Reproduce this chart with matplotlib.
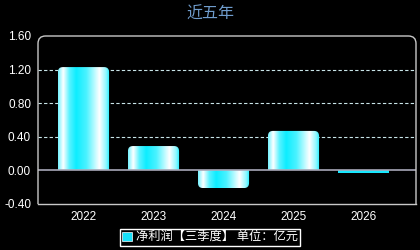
import matplotlib
matplotlib.use('Agg')
import matplotlib.pyplot as plt
import numpy as np
from matplotlib.patches import FancyBboxPatch, Rectangle, Patch
from matplotlib.colors import LinearSegmentedColormap

years = ['2022', '2023', '2024', '2025', '2026']
profit = [1.23, 0.29, -0.21, 0.47, -0.03]
yticks = [-0.40, 0.00, 0.40, 0.80, 1.20, 1.60]

plt.rcParams['font.family'] = ['Liberation Sans', 'Noto Sans CJK SC', 'DejaVu Sans']

fig = plt.figure(figsize=(4.2, 2.5), dpi=100, facecolor='black')
ax = fig.add_axes([38/420, 1-204/250, 378/420, 168/250])
ax.set_facecolor('black')

ax.set_xlim(-0.65, 4.75)
ax.set_ylim(-0.4, 1.6)

# horizontal gradient: cyan with two white highlights
grad = LinearSegmentedColormap.from_list('bar', [
    (0.00, (0.45, 0.95, 1.0)),
    (0.10, (1.0, 1.0, 1.0)),
    (0.22, (0.35, 0.95, 1.0)),
    (0.35, (0.05, 0.93, 1.0)),
    (0.55, (0.30, 0.95, 1.0)),
    (0.80, (1.0, 1.0, 1.0)),
    (0.93, (0.55, 0.97, 1.0)),
    (1.00, (0.10, 0.93, 1.0)),
])
g = np.linspace(0, 1, 256).reshape(1, -1)

w = 0.73
rx = 0.07
ry = 0.06
for i, v in enumerate(profit):
    x0 = i - w/2
    if abs(v) < 0.05:
        ax.bar(i, v, width=w, color='#18e8ff', zorder=3)
        continue
    if v >= 0:
        patch = FancyBboxPatch((x0, -0.1), w, v + 0.1,
                               boxstyle='round,pad=0,rounding_size=%f' % rx,
                               mutation_aspect=ry/rx, transform=ax.transData,
                               facecolor='none', edgecolor='none')
        ext = [x0, x0 + w, 0, v]
    else:
        patch = FancyBboxPatch((x0, v), w, -v + 0.1,
                               boxstyle='round,pad=0,rounding_size=%f' % rx,
                               mutation_aspect=ry/rx, transform=ax.transData,
                               facecolor='none', edgecolor='none')
        ext = [x0, x0 + w, v, 0]
    ax.add_patch(patch)
    im = ax.imshow(g, cmap=grad, extent=ext, aspect='auto', zorder=3,
                   interpolation='bilinear')
    im.set_clip_path(patch)

ax.set_xlim(-0.65, 4.75)
ax.set_ylim(-0.4, 1.6)

for yv in [0.4, 0.8, 1.2]:
    ax.axhline(yv, color='#c8e4e8', lw=0.8, ls=(0, (3, 2)), zorder=1)
ax.axhline(0, color='#a8a8b8', lw=1.2, zorder=4)

# frame with rounded top corners
for s in ['top', 'left', 'right']:
    ax.spines[s].set_visible(False)
ax.spines['bottom'].set_color('#c8c8c8')
ax.spines['bottom'].set_linewidth(1.0)
frame = FancyBboxPatch((0, -0.1), 1, 1.1, boxstyle='round,pad=0,rounding_size=0.02',
                       mutation_aspect=378/168, transform=ax.transAxes,
                       facecolor='none', edgecolor='#c8c8c8', lw=1.0,
                       clip_on=True, zorder=5)
ax.add_patch(frame)
frame.set_clip_path(Rectangle((-0.02, 0), 1.04, 1.05, transform=ax.transAxes))

ax.set_xticks(range(len(years)))
ax.set_xticklabels(years)
ax.set_yticks(yticks)
ax.set_yticklabels(['%.2f' % t for t in yticks])
ax.tick_params(colors='white', labelsize=8.5, length=0)
ax.tick_params(axis='y', pad=5)
ax.tick_params(axis='x', pad=5)

fig.text(0.5, 0.945, '近五年', ha='center', va='center', color='#6f9ccc',
         fontsize=11.5, family=['Noto Sans CJK SC', 'DejaVu Sans'])

leg = fig.legend(handles=[Patch(facecolor='#18e0f8', edgecolor='white', lw=0.5)],
                 labels=['净利润【三季度】 单位：亿元'], loc='center',
                 bbox_to_anchor=(0.5, 0.05), frameon=True, shadow=True,
                 prop={'family': ['Noto Sans CJK SC', 'DejaVu Sans'], 'size': 8.8},
                 handlelength=0.8, handleheight=0.8, handletextpad=0.3,
                 borderpad=0.2, fancybox=False, borderaxespad=0)
leg.get_frame().set_facecolor('black')
leg.get_frame().set_edgecolor('white')
for t in leg.get_texts():
    t.set_color('white')

fig.savefig('out.png', dpi=100, facecolor='black')
